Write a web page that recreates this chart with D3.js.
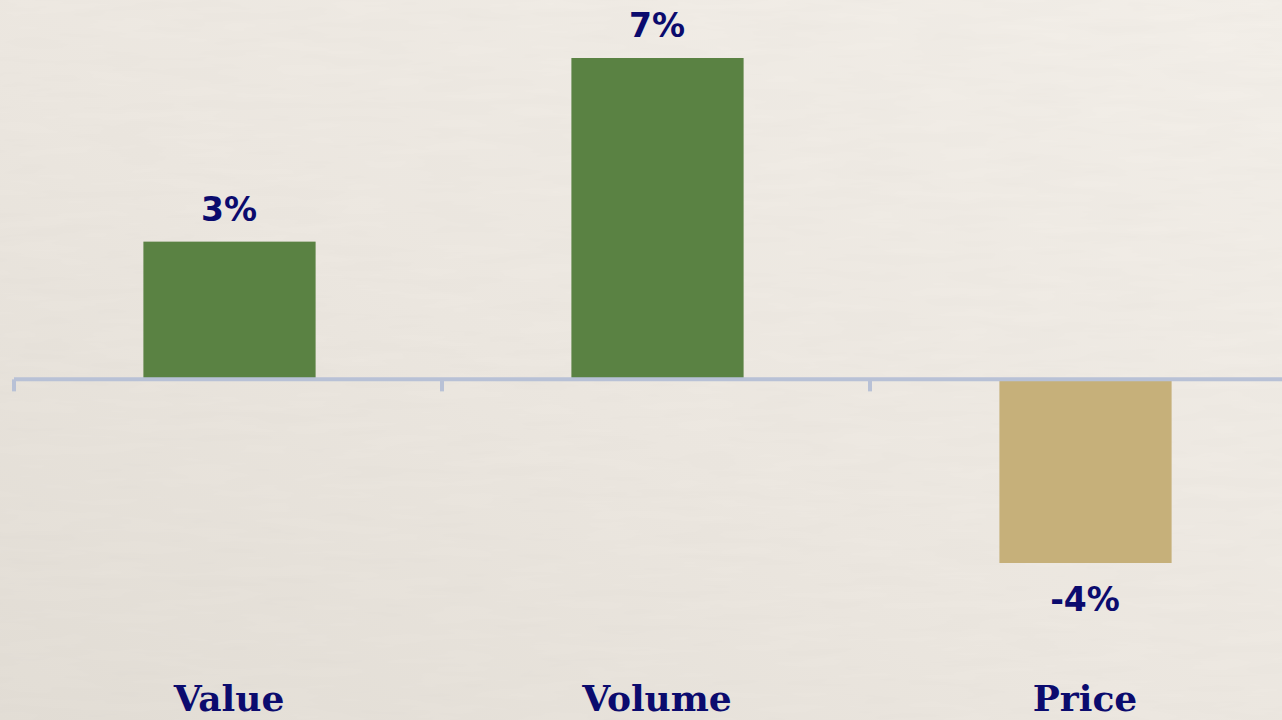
<!DOCTYPE html>
<html>
<head>
<meta charset="utf-8">
<script src="https://cdn.jsdelivr.net/npm/d3@7"></script>
<style>
  html, body { margin: 0; padding: 0; overflow: hidden; }
  svg { display: block; }
</style>
</head>
<body>
<svg id="chart" width="1282" height="720"></svg>
<script>
// Year-on-year change by component
const categories = ["Value", "Volume", "Price"];
const changes = [3, 7, -4];
const valueLabels = ["3%", "7%", "-4%"];

const W = 1282, H = 720;
const svg = d3.select("#chart");

// Parchment-style background
const defs = svg.append("defs");
const grad = defs.append("linearGradient")
  .attr("id", "paper").attr("x1", "100%").attr("y1", "0%").attr("x2", "0%").attr("y2", "100%");
grad.append("stop").attr("offset", "0%").attr("stop-color", "#f4f0ea");
grad.append("stop").attr("offset", "55%").attr("stop-color", "#ede8e1");
grad.append("stop").attr("offset", "100%").attr("stop-color", "#e3ded6");

const filt = defs.append("filter").attr("id", "grain").attr("x", 0).attr("y", 0).attr("width", "100%").attr("height", "100%");
filt.append("feTurbulence").attr("type", "fractalNoise").attr("baseFrequency", "0.012 0.09").attr("numOctaves", 3).attr("seed", 4).attr("result", "n");
filt.append("feColorMatrix").attr("in", "n").attr("type", "matrix")
  .attr("values", "0 0 0 0 0.55  0 0 0 0 0.52  0 0 0 0 0.48  0 0 0 0.10 0");

svg.append("rect").attr("width", W).attr("height", H).attr("fill", "url(#paper)");
svg.append("rect").attr("width", W).attr("height", H).attr("filter", "url(#grain)").attr("fill", "#fff");

// Scales
const x = d3.scaleBand().domain(categories).range([14, 14 + 428 * 3]).paddingInner(0.6).paddingOuter(0.3);
const y = d3.scaleLinear().domain([-4, 7]).range([563, 58]);

// Bars
svg.append("g").selectAll("rect")
  .data(categories)
  .join("rect")
  .attr("x", d => x(d) + 1)
  .attr("width", x.bandwidth() + 1)
  .attr("y", (d, i) => y(Math.max(0, changes[i])))
  .attr("height", (d, i) => Math.abs(y(changes[i]) - y(0)))
  .attr("fill", (d, i) => changes[i] >= 0 ? "#5a8243" : "#c6b07a");

// Zero axis with category ticks
const axisColor = "#b8c1d6";
svg.append("line")
  .attr("x1", 14).attr("x2", W)
  .attr("y1", y(0)).attr("y2", y(0))
  .attr("stroke", axisColor).attr("stroke-width", 4);
svg.append("g").selectAll("line")
  .data(categories)
  .join("line")
  .attr("x1", d => x(d) - x.bandwidth() * 0.75)
  .attr("x2", d => x(d) - x.bandwidth() * 0.75)
  .attr("y1", y(0)).attr("y2", y(0) + 12)
  .attr("stroke", axisColor).attr("stroke-width", 4);

// Value labels
const navy = "#0b0b6e";
svg.append("g").selectAll("text")
  .data(categories)
  .join("text")
  .attr("x", d => x(d) + x.bandwidth() / 2 + 1)
  .attr("y", (d, i) => changes[i] >= 0 ? y(changes[i]) - 21 : y(changes[i]) + 48)
  .attr("text-anchor", "middle")
  .attr("font-family", "'DejaVu Sans', sans-serif")
  .attr("font-weight", "bold")
  .attr("font-size", 33)
  .attr("fill", navy)
  .text((d, i) => valueLabels[i]);

// Category labels
svg.append("g").selectAll("text")
  .data(categories)
  .join("text")
  .attr("x", d => x(d) + x.bandwidth() / 2 + 1)
  .attr("y", 711)
  .attr("text-anchor", "middle")
  .attr("font-family", "'DejaVu Serif', serif")
  .attr("font-weight", "bold")
  .attr("font-size", 36)
  .attr("fill", navy)
  .text(d => d);
</script>
</body>
</html>
